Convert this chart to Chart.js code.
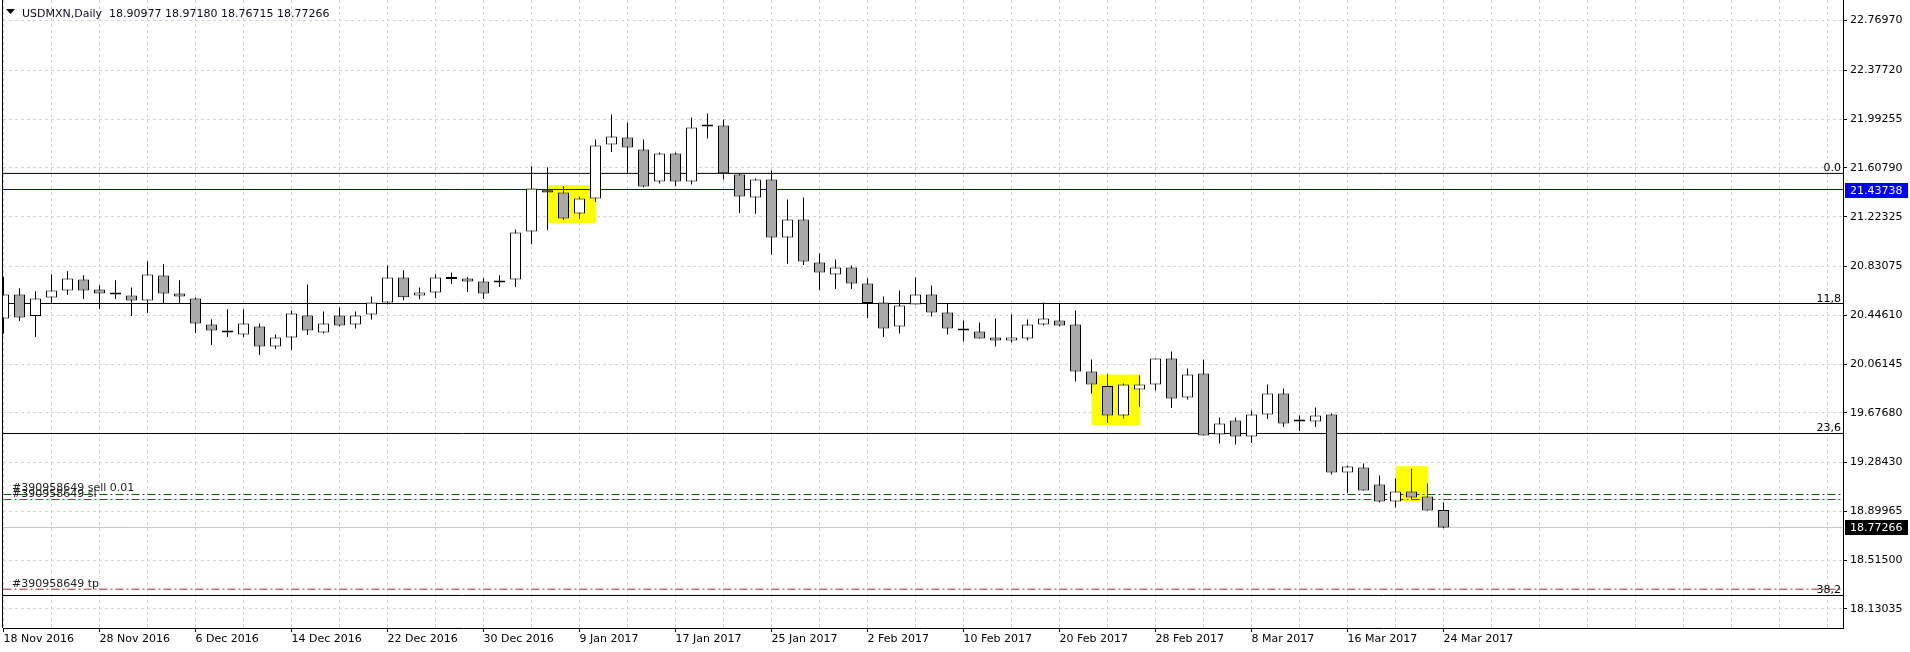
<!DOCTYPE html>
<html lang="en">
<head>
<meta charset="UTF-8">
<title>USDMXN,Daily</title>
<script src="https://cdn.jsdelivr.net/npm/chart.js"></script>
<style>
    html, body { margin: 0; padding: 0; background: #fff; }
    .wrap { position: relative; width: 1910px; height: 652px; }
</style>
</head>
<body>
<div class="wrap"><canvas id="chart"></canvas></div>
<script>
const symbolTitle = 'USDMXN,Daily';

// one label every 6 bars, bar 0 = 18 Nov 2016
const dateLabels = ['18 Nov 2016', '28 Nov 2016', '6 Dec 2016', '14 Dec 2016', '22 Dec 2016', '30 Dec 2016',
    '9 Jan 2017', '17 Jan 2017', '25 Jan 2017', '2 Feb 2017', '10 Feb 2017', '20 Feb 2017',
    '28 Feb 2017', '8 Mar 2017', '16 Mar 2017', '24 Mar 2017'];

const opens = [
    20.4203, 20.6096, 20.4409, 20.5859, 20.6411, 20.7278, 20.6490, 20.6174, 20.6017, 20.5623,
    20.7594, 20.6174, 20.5780, 20.3730, 20.3179, 20.2942, 20.3573, 20.1996, 20.2706, 20.4440,
    20.3100, 20.4440, 20.3730, 20.4519, 20.5465, 20.7436, 20.6017, 20.6253, 20.7326, 20.7357,
    20.7121, 20.7042, 20.7278, 21.1063, 21.4319, 21.4137, 21.2482, 21.3664, 21.7922, 21.8473,
    21.7527, 21.5005, 21.7212, 21.5005, 21.9419, 21.9419, 21.5556, 21.3743, 21.5162, 21.0589,
    21.2009, 20.8619, 20.7672, 20.8224, 20.6963, 20.5465, 20.3573, 20.5307, 20.6096, 20.4676,
    20.3415, 20.3179, 20.2706, 20.2469, 20.2627, 20.3730, 20.4046, 20.3730, 20.0025, 19.8890,
    19.6556, 19.8606, 19.9000, 20.1050, 19.7975, 19.9867, 19.5058, 19.6162, 19.4901, 19.6635,
    19.8291, 19.6083, 19.6083, 19.6635, 19.2062, 19.2457, 19.1116, 18.9776, 19.0564, 19.0170,
    18.90977
];
const highs = [
    20.7483, 20.6592, 20.6356, 20.7696, 20.7933, 20.7617, 20.6829, 20.7223, 20.6647, 20.8721,
    20.8485, 20.7223, 20.5859, 20.4148, 20.4937, 20.4937, 20.3809, 20.2942, 20.4834, 20.6884,
    20.4755, 20.5071, 20.4755, 20.5938, 20.8382, 20.8011, 20.6647, 20.7696, 20.7830, 20.7460,
    20.7381, 20.7617, 21.1220, 21.6211, 21.6132, 21.4634, 21.3822, 21.8316, 22.0287, 21.9656,
    21.8316, 21.7291, 21.7291, 22.0050, 22.0366, 21.9893, 21.5635, 21.5241, 21.5872, 21.3585,
    21.3743, 20.9328, 20.8855, 20.8382, 20.7357, 20.5938, 20.6411, 20.7436, 20.6805, 20.5386,
    20.4046, 20.3888, 20.4203, 20.4519, 20.4125, 20.5465, 20.5386, 20.4834, 20.0971, 19.9789,
    19.9079, 19.9710, 20.1050, 20.1602, 20.0261, 20.0971, 19.6399, 19.6399, 19.6950, 19.9000,
    19.8685, 19.6556, 19.7187, 19.6714, 19.2614, 19.2772, 19.1826, 19.1589, 19.2378, 19.1195,
    18.97180
];
const lows = [
    20.3021, 20.4014, 20.2753, 20.5386, 20.6064, 20.5749, 20.4960, 20.5749, 20.4409, 20.4645,
    20.5386, 20.5386, 20.3068, 20.2122, 20.2753, 20.2753, 20.1334, 20.1807, 20.1728, 20.2910,
    20.3021, 20.3573, 20.3415, 20.4125, 20.5307, 20.5646, 20.5725, 20.5804, 20.6931, 20.6301,
    20.5749, 20.6695, 20.6695, 21.0061, 21.1189, 21.1977, 21.2056, 21.3396, 21.7338, 21.5659,
    21.4550, 21.4847, 21.4658, 21.4768, 21.8395, 21.5162, 21.2529, 21.2466, 20.9233, 20.8524,
    20.8429, 20.6458, 20.6537, 20.6537, 20.4251, 20.2753, 20.3021, 20.5307, 20.4361, 20.2942,
    20.2390, 20.2627, 20.1996, 20.2311, 20.2469, 20.3652, 20.3573, 19.9237, 19.8291, 19.5973,
    19.6319, 19.7234, 19.8527, 19.7155, 19.7818, 19.4979, 19.4349, 19.4270, 19.4396, 19.6288,
    19.5657, 19.5342, 19.5657, 19.1905, 19.0454, 19.0643, 18.9697, 18.9301, 18.9933, 18.9066,
    18.76715
];
const closes = [
    20.6096, 20.4282, 20.5780, 20.6411, 20.7357, 20.6411, 20.6174, 20.6096, 20.5623, 20.7672,
    20.6174, 20.5938, 20.3809, 20.3258, 20.3100, 20.3809, 20.1996, 20.2706, 20.4598, 20.3258,
    20.3809, 20.3652, 20.4440, 20.5465, 20.7436, 20.5883, 20.6253, 20.7436, 20.7404, 20.7121,
    20.6174, 20.7199, 21.0984, 21.4453, 21.4137, 21.2087, 21.3664, 21.7843, 21.8552, 21.7685,
    21.4610, 21.7212, 21.5005, 21.9262, 21.9341, 21.5659, 21.3822, 21.5162, 21.0589, 21.2009,
    20.8697, 20.7830, 20.8224, 20.6963, 20.5434, 20.3415, 20.5228, 20.6096, 20.4676, 20.3415,
    20.3258, 20.2627, 20.2469, 20.2706, 20.3730, 20.4203, 20.3652, 20.0025, 19.9000, 19.6556,
    19.9000, 19.9000, 20.1050, 19.7896, 19.9789, 19.4979, 19.5926, 19.4901, 19.6635, 19.8291,
    19.5926, 19.6083, 19.6556, 19.2062, 19.2535, 19.0643, 18.9776, 19.0564, 19.0091, 18.9066,
    18.77266
];

const priceTicks = [22.76970, 22.37720, 21.99255, 21.60790, 21.22325, 20.83075, 20.44610,
    20.06145, 19.67680, 19.28430, 18.89965, 18.51500, 18.13035];

// fibo levels and their captions
const fibLevels = [21.5643, 20.5386, 19.5137, 18.2365];
const fibNames = ['0.0', '11,8', '23,6', '38,2'];

const markPrice = 21.43738;
const lastPrice = 18.77266;
const orderOpen = 19.0328;
const orderSL = 18.9933;
const orderTP = 18.2862;
const orderId = '#390958649';

// yellow highlight rectangles (bar index range, price range)
const boxFrom = [34, 68, 87];
const boxTo = [37, 71, 89];
const boxLow = [21.1741, 19.5791, 18.9799];
const boxHigh = [21.4713, 19.9789, 19.2559];

const FONT = "'DejaVu Sans', sans-serif";
const bars = opens.map((_, i) => i);

function hline(value, color, dash) {
    return {
        type: 'line',
        data: [{ x: -2, y: value }, { x: 120, y: value }],
        borderColor: color,
        borderWidth: 1,
        borderDash: dash,
        pointRadius: 0,
        order: 3
    };
}

const overlay = {
    id: 'overlay',
    beforeDatasetsDraw(chart) {
        const { ctx, chartArea: a, scales: { x, y } } = chart;
        ctx.save();
        ctx.beginPath();
        ctx.rect(a.left, a.top, a.right - a.left, a.bottom - a.top);
        ctx.clip();
        ctx.fillStyle = '#ffff00';
        boxFrom.forEach((f, i) => {
            const x1 = x.getPixelForValue(f), x2 = x.getPixelForValue(boxTo[i]);
            const y1 = y.getPixelForValue(boxHigh[i]), y2 = y.getPixelForValue(boxLow[i]);
            ctx.fillRect(x1, y1, x2 - x1, y2 - y1);
        });
        ctx.restore();
    },
    afterDatasetsDraw(chart) {
        const { ctx, chartArea: a, scales: { y } } = chart;
        ctx.save();
        ctx.font = '11px ' + FONT;
        ctx.fillStyle = '#000';
        ctx.textAlign = 'right';
        ctx.textBaseline = 'alphabetic';
        fibLevels.forEach((v, i) => {
            ctx.fillText(fibNames[i], a.right - 2, Math.round(y.getPixelForValue(v)) - 2);
        });
        ctx.textAlign = 'left';
        ctx.fillStyle = '#1e1e1e';
        ctx.fillText(orderId + ' sell 0.01', 12, Math.round(y.getPixelForValue(orderOpen)) - 3);
        ctx.fillText(orderId + ' sl', 12, Math.round(y.getPixelForValue(orderSL)) - 3);
        ctx.fillText(orderId + ' tp', 12, Math.round(y.getPixelForValue(orderTP)) - 2);
        ctx.restore();
    },
    afterDraw(chart) {
        const { ctx, chartArea: a, scales: { y } } = chart;
        ctx.save();
        // left frame
        ctx.strokeStyle = '#000';
        ctx.lineWidth = 1;
        ctx.beginPath();
        ctx.moveTo(a.left - 0.5, a.top);
        ctx.lineTo(a.left - 0.5, a.bottom);
        ctx.stroke();

        // price tags on the right scale
        ctx.font = '11px ' + FONT;
        ctx.textBaseline = 'middle';
        ctx.textAlign = 'left';
        [[markPrice, '#0000ff'], [lastPrice, '#000000']].forEach(([v, bg]) => {
            const py = Math.round(y.getPixelForValue(v));
            ctx.fillStyle = bg;
            ctx.fillRect(a.right + 2, py - 7, 63, 15);
            ctx.fillStyle = '#fff';
            ctx.fillText(v.toFixed(5), a.right + 7, py + 1);
        });

        // header
        ctx.fillStyle = '#000';
        ctx.beginPath();
        ctx.moveTo(6, 9);
        ctx.lineTo(15, 9);
        ctx.lineTo(10.5, 14);
        ctx.closePath();
        ctx.fill();
        ctx.fillStyle = '#0a0a2a';
        ctx.textBaseline = 'alphabetic';
        ctx.fillText(symbolTitle + '  ' + [opens, highs, lows, closes].map(s => s[s.length - 1].toFixed(5)).join(' '), 22, 17);
        ctx.restore();
    }
};

new Chart(document.getElementById('chart'), {
    type: 'bar',
    data: {
        datasets: [
            ...fibLevels.map(v => hline(v, '#000000', [])),
            hline(markPrice, '#0000cd', []),
            hline(lastPrice, '#c8c8c8', []),
            hline(orderOpen, '#006400', [8, 3, 2, 3]),
            hline(orderSL, '#a52a2a', [8, 3, 2, 3]),
            hline(orderTP, '#a52a2a', [8, 3, 2, 3]),
            {
                type: 'bar',
                data: bars.map(i => ({ x: i, y: [lows[i], highs[i]] })),
                backgroundColor: '#000',
                borderWidth: 0,
                barThickness: 1,
                inflateAmount: 0,
                grouped: false,
                order: 2
            },
            {
                type: 'bar',
                data: bars.map(i => ({ x: i, y: [Math.min(opens[i], closes[i]), Math.max(opens[i], closes[i])] })),
                backgroundColor: bars.map(i => closes[i] >= opens[i] ? '#ffffff' : '#a9a9a9'),
                borderColor: '#000',
                borderWidth: 1,
                borderSkipped: false,
                barThickness: 11,
                minBarLength: 2,
                inflateAmount: 0,
                grouped: false,
                order: 1
            }
        ]
    },
    options: {
        responsive: true,
        maintainAspectRatio: false,
        animation: false,
        events: [],
        layout: { padding: { left: 3, right: 0, top: 0, bottom: 0 } },
        plugins: { legend: { display: false }, tooltip: { enabled: false } },
        scales: {
            x: {
                type: 'linear',
                min: -0.03125,
                max: 114.96875,
                offset: false,
                grid: {
                    offset: false,
                    color: '#d2d2d2',
                    tickLength: 4,
                    tickColor: c => (c.tick && c.tick.value % 6 === 0 && c.tick.value <= 90) ? '#000' : 'rgba(0,0,0,0)'
                },
                border: { display: true, color: '#000', width: 1, dash: [3, 3] },
                ticks: {
                    autoSkip: false,
                    maxRotation: 0,
                    align: 'start',
                    padding: 1,
                    color: '#000',
                    font: { family: FONT, size: 11 },
                    callback: v => (v % 6 === 0 && dateLabels[v / 6]) || ''
                },
                afterBuildTicks: s => {
                    s.ticks = [];
                    for (let v = 0; v <= 114; v += 3) s.ticks.push({ value: v });
                },
                afterFit: s => {
                    s.height = 24;
                    s.paddingLeft = 0; s.paddingRight = 0;
                }
            },
            y: {
                type: 'linear',
                position: 'right',
                min: 17.98027,
                max: 22.93139,
                beginAtZero: false,
                grid: { color: '#d2d2d2', tickLength: 4, tickColor: '#000' },
                border: { display: true, color: '#000', width: 1, dash: [3, 3] },
                ticks: {
                    padding: 3,
                    color: '#000',
                    font: { family: FONT, size: 11 },
                    callback: v => v.toFixed(5)
                },
                afterBuildTicks: s => { s.ticks = priceTicks.map(v => ({ value: v })); },
                afterFit: s => {
                    s.width = 67;
                    s.paddingTop = 0; s.paddingBottom = 0;
                }
            }
        }
    },
    plugins: [overlay]
});
</script>
</body>
</html>
